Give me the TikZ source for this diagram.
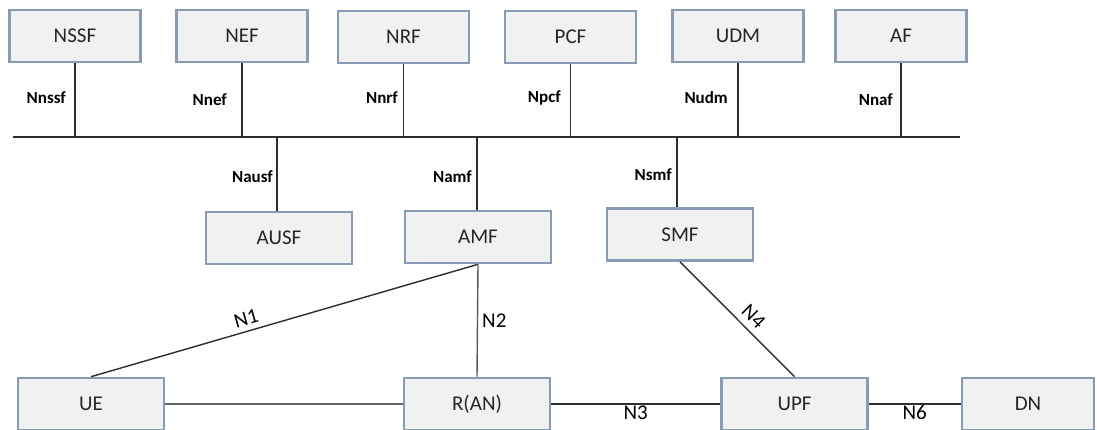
\documentclass[tikz,border=0pt]{standalone}
\usepackage{fontspec}
\setmainfont{Carlito}
\definecolor{boxborder}{RGB}{137,155,183}
\definecolor{boxfill}{RGB}{241,241,241}
\definecolor{linecol}{RGB}{45,45,45}
\tikzset{
  nf/.style={draw=boxborder, fill=boxfill, line width=2.6pt, minimum height=52pt, inner sep=0pt, font=\fontsize{21}{24}\selectfont, text=black!85},
  topnf/.style={nf, minimum width=131pt},
  midnf/.style={nf, minimum width=146pt},
  link/.style={draw=linecol, line width=1.4pt},
  iflabel/.style={font=\bfseries\fontsize{17}{20}\selectfont, anchor=east, inner sep=0pt},
  reflabel/.style={font=\fontsize{21}{24}\selectfont, inner sep=2pt},
  slopelabel/.style={reflabel, sloped, above, inner sep=5pt}
}
\begin{document}
\begin{tikzpicture}[x=1pt,y=-1pt]
\useasboundingbox (0,0) rectangle (1097,430);
% top row
\node[topnf] (nssf) at (75,36) {NSSF};
\node[topnf] (nef)  at (242,36) {NEF};
\node[topnf] (nrf)  at (403.5,37) {NRF};
\node[topnf] (pcf)  at (570.5,37) {PCF};
\node[topnf] (udm)  at (738,36) {UDM};
\node[topnf] (af)   at (901,36) {AF};
% bus
\coordinate (busL) at (13,137);
\coordinate (busR) at (960,137);
\draw[link] (busL) -- (busR);
\foreach \n in {nssf,nef,nrf,pcf,udm,af}{
  \draw[link] (\n.south) -- (\n.south |- busL);
}
% middle row
\node[midnf] (ausf) at (279,238) {AUSF};
\node[midnf] (amf)  at (478,237) {AMF};
\node[midnf] (smf)  at (680,234.5) {SMF};
\draw[link] ([xshift=-2pt]ausf.north |- busL) -- ([xshift=-2pt]ausf.north);
\draw[link] ([xshift=-1pt]amf.north |- busL) -- ([xshift=-1pt]amf.north);
\draw[link] ([xshift=-3pt]smf.north |- busL) -- ([xshift=-3pt]smf.north);
% interface labels
\node[iflabel] at (66,98) {Nnssf};
\node[iflabel] at (227,100) {Nnef};
\node[iflabel] at (398,98) {Nnrf};
\node[iflabel] at (561,98) {Npcf};
\node[iflabel] at (728,98) {Nudm};
\node[iflabel] at (893,100) {Nnaf};
\node[iflabel] at (273,177) {Nausf};
\node[iflabel] at (472,177) {Namf};
\node[iflabel] at (672,175) {Nsmf};
% bottom row
\node[midnf] (ue)  at (91,404) {UE};
\node[midnf] (ran) at (477,404) {R(AN)};
\node[midnf] (upf) at (794.5,404) {UPF};
\node[nf, minimum width=132pt] (dn) at (1028,404) {DN};
% reference points
\draw[link] (ue.north) -- node[slopelabel, pos=0.41] {N1} (amf.south);
\draw[link, draw=black!65] (amf.south) -- node[reflabel, right, pos=0.5, inner sep=4pt] {N2} (ran.north);
\draw[link] (smf.south) -- node[slopelabel, pos=0.56, inner sep=6pt] {N4} (upf.north);
\draw[link, draw=black!60] (ue.east) -- (ran.west);
\draw[link] (ran.east) -- node[reflabel, below, inner sep=1pt] {N3} (upf.west);
\draw[link] (upf.east) -- node[reflabel, below, inner sep=1pt] {N6} (dn.west);
\end{tikzpicture}
\end{document}
